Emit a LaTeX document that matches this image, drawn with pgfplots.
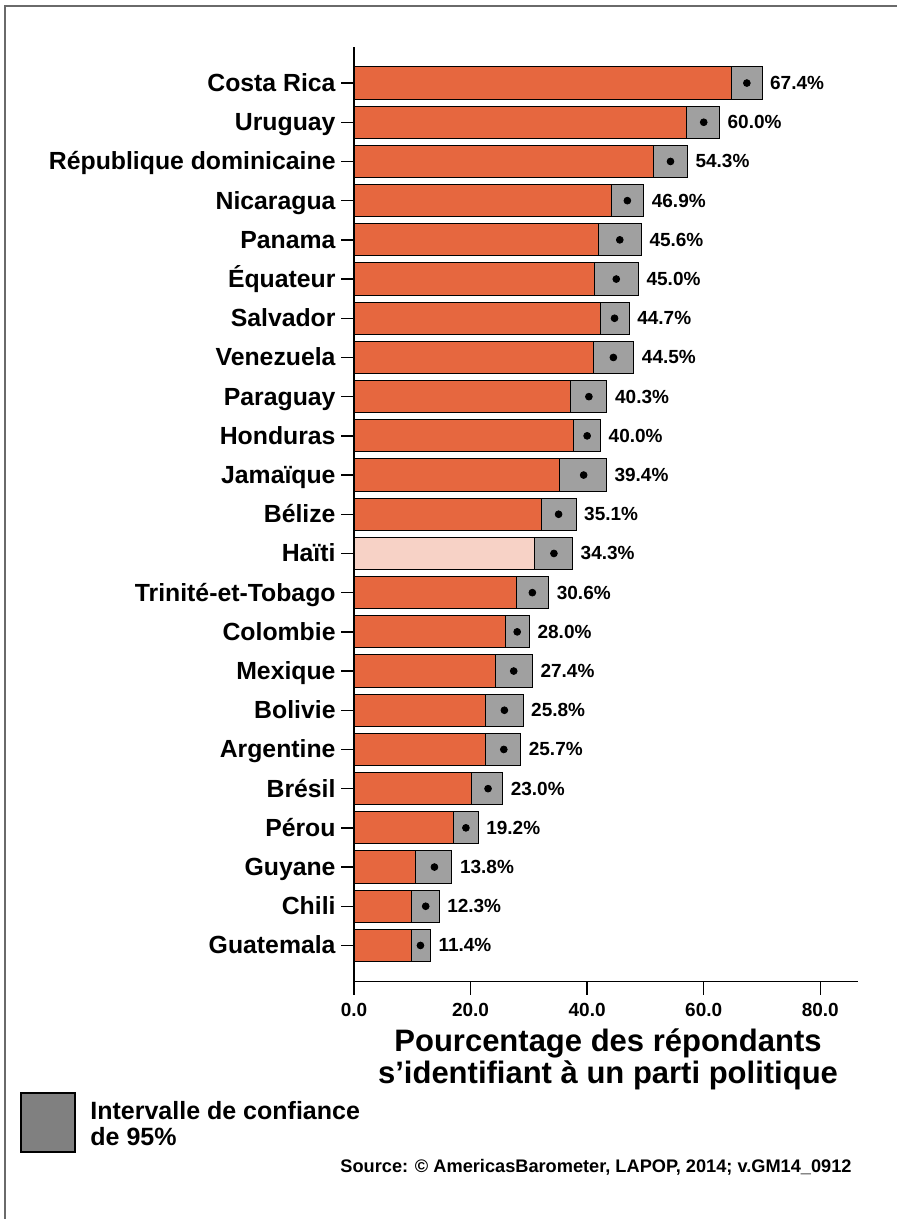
\documentclass[border=0pt]{standalone}
\usepackage{pgfplots}
\usepackage{pgfplotstable}
\pgfplotsset{compat=1.18}
\usepackage{fontspec}
\setmainfont{Liberation Sans}
\definecolor{barorange}{HTML}{E6673F}
\definecolor{haitipink}{HTML}{F7D2C6}
\definecolor{cigrey}{HTML}{A0A0A0}
\definecolor{leggrey}{HTML}{808080}
\definecolor{framegrey}{HTML}{6A6A6A}
\pgfplotstableread{
y val lo hi
23 67.4 64.7 70.0
22 60.0 57.0 62.7
21 54.3 51.4 57.2
20 46.9 44.2 49.7
19 45.6 42.0 49.3
18 45.0 41.2 48.8
17 44.7 42.3 47.2
16 44.5 41.1 48.0
15 40.3 37.2 43.4
14 40.0 37.6 42.3
13 39.4 35.2 43.3
12 35.1 32.2 38.1
11 34.3 31.0 37.5
10 30.6 27.9 33.4
9 28.0 26.0 30.1
8 27.4 24.2 30.6
7 25.8 22.5 29.0
6 25.7 22.6 28.6
5 23.0 20.2 25.5
4 19.2 17.0 21.3
3 13.8 10.6 16.8
2 12.3 9.8 14.6
1 11.4 9.8 13.1
}\datatable
\begin{document}
\begin{tikzpicture}
\useasboundingbox (0,0) rectangle (448.5pt,-609.5pt);
\draw[framegrey, line width=0.7pt] (2.5pt,-612pt) -- (2.5pt,-3pt) -- (452pt,-3pt);
\begin{axis}[
  at={(177pt,-490.75pt)}, anchor=south west,
  scale only axis, width=251.8pt, height=467.25pt,
  xmin=0, xmax=86.4, ymin=0.08, ymax=23.92,
  axis lines=left,
  axis line style={-, line width=0.75pt, black},
  tick align=outside,
  major tick length=6.5pt,
  tick style={line width=0.75pt, black},
  xtick={0,20,40,60,80},
  ytick={1,...,23},
  yticklabels={Guatemala, Chili, Guyane, Pérou, Brésil, Argentine, Bolivie, Mexique, Colombie, Trinité-et-Tobago, Haïti, Bélize, Jamaïque, Honduras, Paraguay, Venezuela, Salvador, Équateur, Panama, Nicaragua, République dominicaine, Uruguay, Costa Rica},
  yticklabel style={font=\bfseries\fontsize{12.4}{14}\selectfont, text height=1.9ex, text depth=0.3ex, xshift=0.8pt},
  xticklabel style={font=\bfseries\fontsize{9.5}{11}\selectfont, yshift=-1pt,
    /pgf/number format/.cd, fixed, fixed zerofill, precision=1, assume math mode=true},
  clip=false,
]
\addplot[xbar, bar shift=0pt, bar width=0.82, fill=cigrey, draw=black, line width=0.5pt,
  point meta=explicit,
  nodes near coords={\pgfmathprintnumber[fixed,fixed zerofill,precision=1,assume math mode=true]{\pgfplotspointmeta}\%},
  nodes near coords style={anchor=west, xshift=0.5pt, font=\bfseries\fontsize{9.5}{11}\selectfont, black}]
  table[x=hi, y=y, meta=val]{\datatable};
\addplot[xbar, bar shift=0pt, bar width=0.82, fill=barorange, draw=black, line width=0.5pt,
  skip coords between index={12}{13}]
  table[x=lo, y=y]{\datatable};
\addplot[xbar, bar shift=0pt, bar width=0.82, fill=haitipink, draw=black, line width=0.5pt]
  coordinates {(31.0,11)};
\addplot[only marks, mark=*, mark size=1.7pt, black] table[x=val, y=y]{\datatable};
\end{axis}
\node[align=center, font=\bfseries\fontsize{15.5}{16}\selectfont] at (304pt,-529.5pt)
  {Pourcentage des répondants\\s’identifiant à un parti politique};
\draw[fill=leggrey, draw=black, line width=0.6pt] (10.5pt,-546.5pt) rectangle (37.5pt,-576pt);
\node[anchor=west, align=left, font=\bfseries\fontsize{12.5}{13}\selectfont, inner sep=0pt] at (45pt,-562pt)
  {Intervalle de confiance\\de 95\%};
\node[anchor=east, font=\bfseries\fontsize{9.1}{11}\selectfont, inner sep=0pt] at (426pt,-583.5pt)
  {Source: © AmericasBarometer, LAPOP, 2014; v.GM14\_0912};
\end{tikzpicture}
\end{document}
